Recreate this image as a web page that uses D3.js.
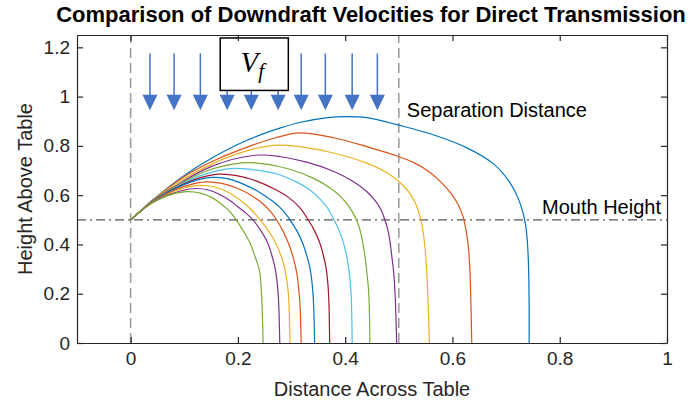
<!DOCTYPE html>
<html>
<head>
<meta charset="utf-8">
<script src="https://cdn.jsdelivr.net/npm/d3@7"></script>
<style>
  body { margin: 0; background: #fff; }
  svg { display: block; font-family: 'Liberation Sans', Arial, sans-serif; }
</style>
</head>
<body>
<svg id="chart" width="693" height="409"></svg>
<script>
const d3 = window.d3

// trajectories, largest first: [distance, height]
const traj1 = [[0, 0.5], [0.02, 0.539], [0.04, 0.578], [0.1, 0.68], [0.154, 0.754], [0.216, 0.822], [0.278, 0.872], [0.315, 0.895], [0.371, 0.916], [0.4, 0.919], [0.44, 0.915], [0.502, 0.883], [0.564, 0.845], [0.626, 0.793], [0.676, 0.728], [0.705, 0.658], [0.722, 0.59], [0.732, 0.525], [0.737, 0.47], [0.74, 0.4], [0.742, 0.3], [0.743, 0.15], [0.743, 0]]
const traj2 = [[0, 0.5], [0.02, 0.539], [0.04, 0.577], [0.1, 0.676], [0.16, 0.745], [0.22, 0.797], [0.27, 0.833], [0.315, 0.853], [0.378, 0.833], [0.44, 0.797], [0.502, 0.755], [0.53, 0.73], [0.555, 0.697], [0.58, 0.65], [0.598, 0.605], [0.611, 0.56], [0.62, 0.512], [0.625, 0.46], [0.629, 0.404], [0.632, 0.32], [0.634, 0.2], [0.636, 0]]
const traj3 = [[0, 0.5], [0.02, 0.538], [0.04, 0.576], [0.09, 0.654], [0.16, 0.735], [0.215, 0.779], [0.272, 0.803], [0.315, 0.797], [0.378, 0.771], [0.44, 0.73], [0.483, 0.684], [0.51, 0.635], [0.527, 0.585], [0.536, 0.54], [0.541, 0.5], [0.545, 0.455], [0.548, 0.404], [0.551, 0.33], [0.554, 0.2], [0.557, 0]]
const traj4 = [[0, 0.5], [0.02, 0.538], [0.04, 0.575], [0.08, 0.633], [0.15, 0.716], [0.232, 0.762], [0.28, 0.756], [0.33, 0.733], [0.378, 0.697], [0.415, 0.655], [0.44, 0.615], [0.457, 0.575], [0.467, 0.54], [0.474, 0.5], [0.48, 0.455], [0.484, 0.404], [0.487, 0.35], [0.49, 0.296], [0.493, 0.2], [0.496, 0]]
const traj5 = [[0, 0.5], [0.02, 0.538], [0.04, 0.574], [0.08, 0.63], [0.14, 0.697], [0.207, 0.731], [0.25, 0.727], [0.295, 0.706], [0.34, 0.669], [0.37, 0.632], [0.39, 0.597], [0.405, 0.56], [0.414, 0.53], [0.421, 0.5], [0.428, 0.455], [0.433, 0.404], [0.437, 0.35], [0.44, 0.296], [0.444, 0.2], [0.446, 0]]
const traj6 = [[0, 0.5], [0.02, 0.538], [0.04, 0.573], [0.075, 0.62], [0.125, 0.675], [0.185, 0.708], [0.23, 0.703], [0.27, 0.688], [0.309, 0.654], [0.335, 0.62], [0.355, 0.58], [0.368, 0.545], [0.379, 0.5], [0.389, 0.455], [0.397, 0.404], [0.403, 0.35], [0.407, 0.296], [0.411, 0.2], [0.413, 0]]
const traj7 = [[0, 0.5], [0.02, 0.538], [0.04, 0.572], [0.07, 0.613], [0.115, 0.66], [0.163, 0.685], [0.2, 0.678], [0.235, 0.657], [0.268, 0.625], [0.295, 0.59], [0.315, 0.55], [0.331, 0.5], [0.343, 0.455], [0.353, 0.404], [0.36, 0.35], [0.365, 0.296], [0.369, 0.2], [0.371, 0]]
const traj8 = [[0, 0.5], [0.02, 0.538], [0.04, 0.572], [0.07, 0.612], [0.11, 0.652], [0.151, 0.672], [0.18, 0.667], [0.21, 0.645], [0.24, 0.612], [0.265, 0.575], [0.283, 0.54], [0.297, 0.5], [0.31, 0.455], [0.321, 0.404], [0.329, 0.35], [0.335, 0.296], [0.34, 0.2], [0.343, 0]]
const traj9 = [[0, 0.5], [0.02, 0.538], [0.04, 0.571], [0.07, 0.608], [0.105, 0.639], [0.141, 0.654], [0.17, 0.648], [0.2, 0.627], [0.228, 0.595], [0.248, 0.562], [0.262, 0.53], [0.272, 0.5], [0.285, 0.45], [0.296, 0.395], [0.304, 0.34], [0.31, 0.28], [0.315, 0.18], [0.318, 0]]
const traj10 = [[0, 0.5], [0.02, 0.538], [0.04, 0.57], [0.07, 0.605], [0.1, 0.629], [0.129, 0.64], [0.155, 0.634], [0.18, 0.614], [0.204, 0.58], [0.224, 0.543], [0.241, 0.5], [0.257, 0.455], [0.271, 0.404], [0.281, 0.35], [0.288, 0.296], [0.294, 0.2], [0.297, 0]]
const traj11 = [[0, 0.5], [0.02, 0.538], [0.04, 0.569], [0.07, 0.601], [0.095, 0.618], [0.12, 0.627], [0.145, 0.621], [0.167, 0.602], [0.185, 0.578], [0.2, 0.553], [0.215, 0.527], [0.228, 0.5], [0.243, 0.455], [0.256, 0.404], [0.264, 0.35], [0.27, 0.296], [0.275, 0.2], [0.278, 0]]
const traj12 = [[0, 0.5], [0.02, 0.538], [0.04, 0.568], [0.06, 0.59], [0.08, 0.605], [0.104, 0.614], [0.13, 0.608], [0.15, 0.592], [0.168, 0.566], [0.184, 0.535], [0.197, 0.5], [0.21, 0.455], [0.223, 0.404], [0.232, 0.35], [0.24, 0.296], [0.244, 0.2], [0.247, 0]]
const trajectories = [traj1, traj2, traj3, traj4, traj5, traj6, traj7, traj8, traj9, traj10, traj11, traj12]

const colors = ['#0072BD', '#D95319', '#EDB120', '#7E2F8E', '#77AC30', '#4DBEEE', '#A2142F',
  '#0072BD', '#D95319', '#EDB120', '#7E2F8E', '#77AC30']

const xTicks = [0, 0.2, 0.4, 0.6, 0.8, 1]
const yTicks = [0, 0.2, 0.4, 0.6, 0.8, 1, 1.2]
const arrowX = [0.036, 0.081, 0.13, 0.18, 0.225, 0.275, 0.318, 0.363, 0.413, 0.46]
const arrowTop = 1.175
const arrowHeadBase = 1.008
const arrowTip = 0.945
const mouthHeight = 0.5
const separation = 0.5

const svg = d3.select('#chart')
const x = d3.scaleLinear().domain([-0.1, 1]).range([77, 667])
const y = d3.scaleLinear().domain([0, 1.25]).range([343, 35])
const ink = '#262626'

// reference lines
svg.append('line')
  .attr('x1', x(0)).attr('x2', x(0)).attr('y1', y(0)).attr('y2', y(1.25))
  .attr('stroke', '#9a9a9a').attr('stroke-width', 1.5).attr('stroke-dasharray', '10,5')
svg.append('line')
  .attr('x1', x(separation)).attr('x2', x(separation)).attr('y1', y(0)).attr('y2', y(1.25))
  .attr('stroke', '#9a9a9a').attr('stroke-width', 1.5).attr('stroke-dasharray', '10,5')
svg.append('line')
  .attr('x1', x(-0.1)).attr('x2', x(1)).attr('y1', y(mouthHeight)).attr('y2', y(mouthHeight))
  .attr('stroke', '#555').attr('stroke-width', 1.2).attr('stroke-dasharray', '9,4,2,4')

const line = d3.line()
  .x(d => x(d[0]))
  .y(d => y(d[1]))
  .curve(d3.curveCatmullRom.alpha(0.5))

svg.append('g').selectAll('path').data(trajectories).enter().append('path')
  .attr('d', line)
  .attr('fill', 'none')
  .attr('stroke', (d, i) => colors[i])
  .attr('stroke-width', 1.2)

// downdraft arrows
const arrows = svg.append('g').selectAll('g').data(arrowX).enter().append('g')
arrows.append('line')
  .attr('x1', d => x(d)).attr('x2', d => x(d))
  .attr('y1', y(arrowTop)).attr('y2', y(arrowHeadBase) + 1)
  .attr('stroke', '#4472C4').attr('stroke-width', 1.5)
arrows.append('path')
  .attr('d', d => `M${x(d) - 7.5},${y(arrowHeadBase)}L${x(d) + 7.5},${y(arrowHeadBase)}L${x(d)},${y(arrowTip)}Z`)
  .attr('fill', '#4472C4')

// V_f box
svg.append('rect')
  .attr('x', x(0.167)).attr('y', y(1.238))
  .attr('width', x(0.294) - x(0.167)).attr('height', y(1.025) - y(1.238))
  .attr('fill', '#fff').attr('stroke', '#000').attr('stroke-width', 1.5)
const vf = svg.append('text')
  .attr('x', (x(0.167) + x(0.294)) / 2 - 2).attr('y', y(1.1))
  .attr('text-anchor', 'middle')
  .style('font-family', "'Liberation Serif', 'DejaVu Serif', serif")
  .style('font-style', 'italic')
vf.append('tspan').style('font-size', '29px').text('V')
vf.append('tspan').attr('dy', 6).style('font-size', '21px').text('f')

// axes
const axes = svg.append('g')
axes.append('g').attr('transform', `translate(0,${y(0)})`)
  .call(d3.axisBottom(x).tickValues(xTicks).tickSizeInner(-6).tickSizeOuter(0).tickPadding(9).tickFormat(d3.format('~g')))
axes.append('g').attr('transform', `translate(0,${y(1.25)})`)
  .call(d3.axisTop(x).tickValues(xTicks).tickSizeInner(-6).tickSizeOuter(0).tickFormat(''))
axes.append('g').attr('transform', `translate(${x(-0.1)},0)`)
  .call(d3.axisLeft(y).tickValues(yTicks).tickSizeInner(-6).tickSizeOuter(0).tickPadding(7).tickFormat(d3.format('~g')))
axes.append('g').attr('transform', `translate(${x(1)},0)`)
  .call(d3.axisRight(y).tickValues(yTicks).tickSizeInner(-6).tickSizeOuter(0).tickFormat(''))
axes.selectAll('path, line').attr('stroke', ink).attr('stroke-width', 1.2)
axes.selectAll('text').attr('fill', ink).style('font-size', '19px').style('font-family', "'Liberation Sans', Arial, sans-serif")

// labels
svg.append('text')
  .attr('x', (x(-0.1) + x(1)) / 2 - 1).attr('y', 22)
  .attr('text-anchor', 'middle')
  .style('font-size', '22px').style('font-weight', 'bold')
  .text('Comparison of Downdraft Velocities for Direct Transmission')
svg.append('text')
  .attr('x', (x(-0.1) + x(1)) / 2).attr('y', 396)
  .attr('text-anchor', 'middle').attr('fill', ink)
  .style('font-size', '20px')
  .text('Distance Across Table')
svg.append('text')
  .attr('transform', `translate(32,${(y(0) + y(1.25)) / 2}) rotate(-90)`)
  .attr('text-anchor', 'middle').attr('fill', ink)
  .style('font-size', '20px')
  .text('Height Above Table')
svg.append('text')
  .attr('x', x(0.515)).attr('y', y(0.918))
  .style('font-size', '20px')
  .text('Separation Distance')
svg.append('text')
  .attr('x', x(0.767)).attr('y', y(0.523))
  .style('font-size', '20px')
  .text('Mouth Height')
</script>
</body>
</html>
